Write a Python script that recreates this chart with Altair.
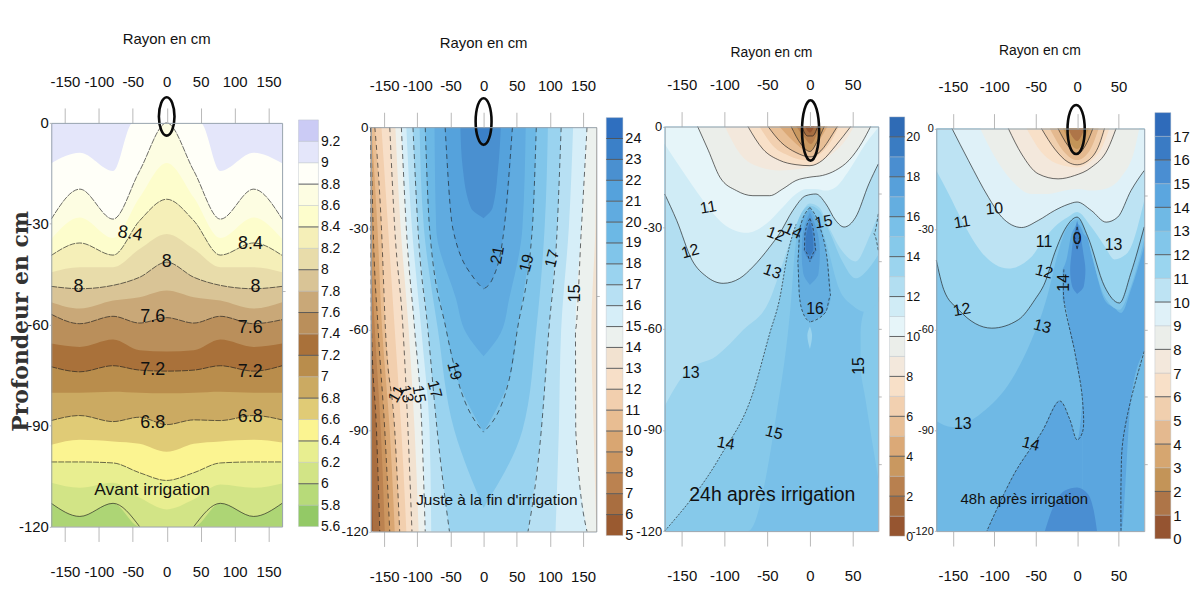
import altair as alt
import pandas as pd

NARROW = "Liberation Sans"
SANS = "Liberation Sans"
H = 575

# ---------- panel 1 : curves (depth in cm at radius nodes) ----------
P1_X = [-170, -128, -79, -40, 0, 40, 79, 128, 170]
P1_X90 = [-170, -128, -79, -50, 0, 50, 79, 128, 170]
P1_L90 = [12, 8.9, 14.3, 0, 0, 0, 14.3, 8.9, 12]
P1_L88 = [28.6, 19.7, 28.6, 14.3, 0, 14.3, 28.6, 19.7, 28.6]
P1_L86 = [34.5, 28.1, 34.2, 22.2, 11.9, 22.2, 34.2, 28.1, 34.5]
P1_L84 = [39.4, 35.7, 39.3, 29.1, 22.7, 29.1, 39.3, 35.7, 39.4]
P1_L82 = [44.4, 42.9, 42.9, 37.5, 33, 37.5, 42.9, 42.9, 44.4]
P1_L80 = [48.6, 49.3, 48.3, 45.9, 41.4, 45.9, 48.3, 49.3, 48.6]
P1_L78 = [53.3, 55.2, 52.8, 51.8, 49.8, 51.8, 52.8, 55.2, 53.3]
P1_L76 = [56.9, 59.7, 57.5, 59.5, 57.9, 59.5, 57.5, 59.7, 58.5]
P1_L74 = [65.6, 66.6, 64.4, 67.6, 68, 67.6, 64.4, 66.6, 65.6]
P1_L72 = [72.5, 74, 72.2, 73.5, 73.8, 73.5, 72.2, 73.8, 72.2]
P1_L70 = [80.2, 80.2, 79.9, 80.2, 80.4, 80.2, 79.9, 80.2, 80.2]
P1_L68 = [88.5, 87, 88.8, 87.5, 89.7, 88.3, 88.5, 87, 88.3]
P1_L66 = [95.7, 94.2, 94.7, 95.4, 97.8, 95.4, 94.7, 94.2, 95]
P1_L64 = [100.8, 100.8, 101.1, 104, 106.3, 104, 101.1, 100.8, 100.8]
P1_L62 = [107, 108.5, 107, 111.4, 114.9, 111.9, 107.5, 108.5, 107.2]
P1_L60 = [113.1, 117, 113.1, 120, 120, 120, 113.1, 117, 113.1]
P1_CELLS = ['#93c966', '#b7da79', '#d2e486', '#e8ee90', '#fbf491', '#e0cb76', '#cbaa62', '#b98d4c', '#a9713a',
            '#ba8f5b', '#c9a878', '#d9c496', '#e8dcaa', '#f5efb8', '#fdfdcc', '#fdfde2', '#fffff8', '#e4e6fa', '#cbcbf5']
P1_LEVELS = [5.6, 5.8, 6, 6.2, 6.4, 6.6, 6.8, 7, 7.2, 7.4, 7.6, 7.8, 8, 8.2, 8.4, 8.6, 8.8, 9, 9.2, 9.4]
P1_LABELS = ['8.4', '8', '8.4', '8', '8', '7.6', '7.6', '7.2', '7.2', '6.8', '6.8']
P1_LABEL_X = [-53.7, 0, 123.4, -130, 130.7, -20.5, 123, -20.5, 123, -20.5, 123]
P1_LABEL_D = [33, 41.4, 36, 48.8, 48.8, 57.7, 61, 73.5, 74, 89.2, 87.3]
P1_LABEL_A = [10, 0, 0, 0, 0, 0, 0, 0, 0, 0, 0]

# ---------- panel 2 : left / right boundaries at depth nodes ----------
P2_D = [0, 30, 60, 90, 120]
P2_L6 = [-170, -170, -170, -170, -166.5]
P2_L7 = [-170, -170, -169, -161.5, -156.5]
P2_L8 = [-170, -170, -164, -155, -149]
P2_L9 = [-170, -166.5, -159, -149, -141.5]
P2_L10 = [-169, -160, -153, -141.5, -134]
P2_L11 = [-164, -154, -148, -134, -126.5]
P2_L12 = [-154, -144, -134, -124, -116.5]
P2_L13 = [-141.5, -134, -121.5, -114, -108]
P2_L14 = [-133, -125, -113, -104, -98]
P2_R14 = [170, 168.5, 162.5, 166, 170]
P2_L15 = [-124, -116.5, -104, -93, -88]
P2_R15 = [156, 147.5, 138.5, 139, 156]
P2_L16 = [-116.5, -108, -94, -81.5, -79]
P2_R16 = [135, 128.5, 117, 113.5, 108.5]
P2_L17 = [-106.5, -99, -84, -70, -51.5]
P2_R17 = [117, 111, 98.5, 87, 67]
P2_D18 = [0, 30, 60, 90, 113]
P2_L18 = [-96.5, -90, -69, -44, 0]
P2_R18 = [97, 92, 79.5, 58.5, 0]
P2_D19 = [0, 30, 60, 75, 90.5]
P2_L19 = [-88, -81.5, -56.5, -39, 0]
P2_R19 = [79.5, 73.5, 51, 38.5, 0]
P2_D20 = [0, 30, 51, 61, 68]
P2_L20 = [-74, -71.5, -41.5, -26.5, 0]
P2_R20 = [63.5, 58.5, 38.5, 26, 0]
P2_D21 = [0, 30, 45, 48]
P2_L21 = [-58, -46.5, -14, 0]
P2_R21 = [43.5, 31, 13.5, 0]
P2_D22 = [0, 12, 24, 27]
P2_L22 = [-35, -31.5, -19, 0]
P2_R22 = [26, 22, 13.5, 0]
P2_D23 = [0, 6]
P2_L23 = [-13, 0]
P2_R23 = [12, 0]
P2_CELLS = ['#9a5a30', '#a96e40', '#bb8250', '#cc9660', '#d9a672', '#e8bd92', '#f2cfae', '#f7dfc8', '#f2e2d0', '#ecf1ee',
            '#d6eef8', '#b7e0f3', '#9ad3ef', '#80c5ea', '#6cb8e5', '#60abe0', '#55a2dc', '#4a90d0', '#3b80c8', '#2f6fbf']
P2_LEVELS = list(range(5, 26))
P2_LABELS = ['21', '19', '17', '15', '19', '11', '13', '15', '17']
P2_LABEL_X = [21, 65, 103.5, 138.5, -44, -131.5, -116.5, -97.5, -74]
P2_LABEL_D = [38, 40.4, 39, 49.3, 72.4, 79.2, 79.2, 79.2, 77.8]
P2_LABEL_A = [280, 285, 285, 270, 75, 300, 75, 80, 75]

# ---------- panel 3 ----------
P3_X12 = [-170, -156, -138, -121, -101.5, -82, -66.7, -47, -35.7, -20, -4.7, 7, 18.6, 30, 40, 53.5, 69, 80]
P3_D12 = [20, 27.8, 39.6, 44.5, 46.5, 45, 41.6, 35.7, 31.8, 24.9, 20.5, 20, 22.9, 27.8, 29.8, 26.9, 17, 11.1]
P3_X13 = [-170, -144, -109, -78, -47, -32, -20, -8.5, 0, 11, 22.5, 38, 53.5, 69, 80]
P3_D13 = [82.9, 72.6, 68, 60.3, 51.4, 40.6, 31.8, 25, 22.8, 24, 30, 37, 40, 33, 26]
P3_X14 = [-170, -105.4, -66.7, -47, -35.7, -26, -16.3, -8.5, 0, 11, 22.5, 38, 53.5, 69, 80]
P3_D14 = [120, 98, 79, 61.3, 51.4, 37.7, 29, 25, 23.5, 25, 31, 40, 45, 42, 38]
P3_X15 = [-170, -72.5, -39.5, -22, -17, -6.6, 0, 9, 18.6, 34, 49.6, 65, 80]
P3_D15 = [120, 120, 85.8, 51.4, 35.5, 26, 25, 27, 34, 48, 53, 55, 52]
P3_X11 = [-170, -152, -125, -101.5, -74.4, -51, -31.8, -16.3, -4.7, 7, 18.6, 30, 45.7, 65, 80]
P3_D11 = [5.2, 12.1, 21.9, 28.8, 31.5, 28.8, 23.9, 20, 18.5, 18.5, 19, 18, 13, 5.2, 0.3]
P3_X10 = [-131.4, -119, -105.4, -86, -66.7, -47, -31.8, -16.3, 0, 14.7, 30, 45.7, 61, 71]
P3_D10 = [0, 7, 15, 19, 20.5, 20.5, 18.5, 16, 15, 14.5, 13, 10, 4.7, 0]
P3_X9 = [-99.6, -82, -59, -35.7, -12.4, 7, 26.4, 41.9, 51.6]
P3_D9 = [0, 8, 12, 13, 12.6, 11, 8, 4, 0]
P3_X8 = [-72.5, -55, -35.7, -16.3, 0, 14.7, 30, 47.7]
P3_D8 = [0, 6.7, 10, 11.3, 11.6, 10, 5.7, 0]
P3_X7 = [-59, -43.4, -24, -4.7, 7, 22.5, 34]
P3_D7 = [0, 5.7, 8.7, 10, 9, 5.2, 0]
P3_X6 = [-49, -33.7, -16.3, 0, 12.8, 26.4, 32]
P3_D6 = [0, 4.7, 7.7, 9, 7.2, 2.3, 0]
P3_X5 = [-35.7, -20, -2.7, 9, 20.5]
P3_D5 = [0, 4.2, 7.2, 4.7, 0]
P3_X4 = [-22, -10.5, 0, 9, 16.7]
P3_D4 = [0, 5.2, 7.4, 4.2, 0]
P3_X3 = [-16, -6.6, 1, 10.9]
P3_D3 = [0, 3.2, 5.2, 0]
P3_X2 = [-9.7, -2.7, 3, 9]
P3_D2 = [0, 2.8, 2.8, 0]
P3_X1 = [-5.8, 0, 5]
P3_D1 = [0, 1.8, 0]
P3_B16_D = [24, 30, 40, 50, 55, 58]
P3_B16_L = [0, -11.6, -14.3, -12.4, -8.5, 0]
P3_B16_R = [0, 12, 20.5, 24.4, 18.6, 0]
P3_B17_D = [25.4, 31.8, 37.7, 43.6, 47]
P3_B17_L = [0, -8.5, -9.7, -7.8, 0]
P3_B17_R = [0, 9.3, 11.6, 10, 0]
P3_B18_D = [27.3, 31.8, 36.7, 40]
P3_B18_L = [0, -5.8, -6.6, 0]
P3_B18_R = [0, 4.7, 7, 0]
P3_B19_D = [28.3, 32.7, 36.2, 38.4]
P3_B19_L = [0, -4.5, -5, 0]
P3_B19_R = [0, 3.5, 4, 0]
P3_SPOT_D = [59.3, 62, 66]
P3_SPOT_L = [0, -3, 0]
P3_SPOT_R = [0, 2.5, 0]
P3_EDGE_D = [47.5, 53.4, 61.3, 71, 80.9, 104.5]
P3_EDGE_L = [80, 65, 59.3, 59.3, 65, 80]
P3_EDGE_R = [80, 80, 80, 80, 80, 80]
P3_POCKET_D = [25.9, 31.8, 36.7]
P3_POCKET_L = [80, 74.8, 80]
P3_CELLS = ['#965530', '#a76d40', '#b8804f', '#c99860', '#dba977', '#e8bf96', '#f2d0b0', '#f8e0c8', '#f3e8dc', '#ebeeea',
            '#e6f5f9', '#d0ecf6', '#b2def1', '#9bd4ee', '#86c9ea', '#79c0e8', '#64aee0', '#57a0da', '#4a8ed0', '#3a7cc2', '#2f6bb5']
P3_LEVELS = list(range(0, 22))
P3_LABELS = ['11', '12', '12', '14', '13', '15', '16', '13', '14', '15', '15']
P3_LABEL_X = [-119, -140, -40, -20, -44, 16, 6, -139.5, -98.5, -42, 58]
P3_LABEL_D = [24, 37, 32, 31, 43, 28.3, 54, 73, 94, 90.8, 71]
P3_LABEL_A = [350, 345, 20, 25, 20, 350, 0, 0, 10, 15, 270]

# ---------- panel 4 ----------
P4_X13 = [-170, -151, -115, -79, -55, -41, -35, -23, -11, 0, 11, 17, 33, 51, 65, 81]
P4_D13 = [87.2, 89, 84.7, 74.8, 63, 54, 49, 37, 29, 27, 31, 37, 50, 54, 47, 33]
P4_X12 = [-170, -161, -143, -103, -71, -51, -39, -27, -13, 0, 13, 33, 51, 65, 81]
P4_D12 = [39.2, 48, 54, 59.5, 57, 51, 46, 37, 29.3, 26.4, 32.3, 47, 52, 43, 29.3]
P4_X11 = [-170, -155, -139, -115, -83, -55, -41, -27, -11, 0, 17, 33, 45, 61, 81]
P4_D11 = [12.5, 19.5, 27.4, 37, 41.7, 38.2, 33.3, 29.3, 26.4, 24.9, 29.3, 35, 39, 37, 21.4]
P4_X10 = [-151, -131, -107, -91, -67, -47, -27, -11, 0, 17, 35, 49, 65, 81]
P4_D10 = [0, 9.6, 20.5, 26.4, 29.5, 27.4, 24.4, 22.6, 21.9, 24.4, 27.9, 26.4, 18.5, 12.5]
P4_X9 = [-117, -99, -79, -55, -35, -15, 1, 17, 33, 53, 69, 75]
P4_D9 = [0, 8.6, 15.5, 19.5, 19.5, 18.5, 18, 18.5, 18, 14.5, 6.6, 0]
P4_X8 = [-83, -67, -47, -23, -3, 17, 37, 47]
P4_D8 = [0, 7.6, 13.5, 15, 14, 11.6, 6.1, 0]
P4_X7 = [-61, -43, -23, 0, 17, 31, 39]
P4_D7 = [0, 7.1, 10.6, 11.6, 9.6, 5.1, 0]
P4_X6 = [-43, -27, -11, 0, 13, 27, 33]
P4_D6 = [0, 6.1, 10, 10.8, 9.6, 4.6, 0]
P4_X5 = [-33, -17, 0, 15, 26]
P4_D5 = [0, 6.6, 9.4, 6.6, 0]
P4_X4 = [-23, -11, 0, 11, 19]
P4_D4 = [0, 5.1, 7.6, 4.6, 0]
P4_X3 = [-17, 0, 14]
P4_D3 = [0, 6.1, 0]
P4_X2 = [-11, 0, 9]
P4_D2 = [0, 3.7, 0]
P4_A_X = [-17.6, -12.8, -6.8, -2.8, 0, 6.4, 6.5, 13, 21, 33, 45, 53, 65, 81]
P4_A_TOP = [42, 39, 31.4, 29.5, 28.4, 30.5, 30.6, 33, 41, 51, 53.5, 55, 48, 35]
P4_A_BOT = [51, 54, 63, 66.4, 71, 80.7, 120, 120, 120, 120, 120, 120, 80.7, 66.4]
P4_B_X = [-109, -75, -43, -21, -9, 0, 6.6]
P4_B_TOP = [120, 102.5, 90.6, 81.2, 86.6, 92.8, 81]
P4_LINE14_X = [-16, -16, -3, 6.4, 6.4, 0, -9, -21, -43, -75, -109]
P4_LINE14_D = [42, 51, 66.4, 80.7, 90.6, 92.8, 86.6, 81.2, 90.6, 102.5, 120]
P4_LINE14R_X = [81, 65, 55, 53, 53]
P4_LINE14R_D = [66.4, 80.7, 93.6, 105, 120]
P4_BOT_X = [-38.9, -30.9, -14.8, 0, 13.2, 21.2, 24]
P4_BOT_D = [120, 114, 107.9, 107, 109, 115.4, 120]
P4_B15_D = [27.4, 32.3, 37.3, 42.2, 47.1, 49.3]
P4_B15_L = [0, -4.4, -6.8, -8.4, -6, 0]
P4_B15_R = [0, 4.4, 7.6, 10, 8, 0]
P4_B16_D = [29.3, 32.3, 36.3]
P4_B16_L = [0, -3.6, 0]
P4_B16_R = [0, 3.6, 0]
P4_CELLS = ['#955431', '#ae7548', '#c39458', '#d6a670', '#e4b98f', '#f0cfae', '#f8e0c8', '#f3e8dc', '#ebeeea', '#dff1f8',
            '#bde3f3', '#9ad5ef', '#82c6ea', '#6fb9e5', '#5ba6df', '#4a8ed2', '#3a7bc4', '#2f6bba']
P4_LEVELS = list(range(0, 19))
P4_LABELS = ['11', '10', '11', '12', '14', '13', '0', '12', '13', '13', '14']
P4_LABEL_X = [-139, -100, -40, -40, -16, 44, 0, -139, -42, -138, -56]
P4_LABEL_D = [27.9, 23.9, 33.8, 42.7, 46, 34.8, 32.8, 54, 59, 88, 94]
P4_LABEL_A = [350, 355, 0, 15, 270, 0, 0, 350, 15, 0, 15]

# ---------- ellipses ----------
E1_X = [0, 8.1, 11.5, 8.1, 0, -8.1, -11.5, -8.1]
E1_D = [-7.6, -5.9, -1.9, 2.1, 3.8, 2.1, -1.9, -5.9]
E2_X = [0, 8.5, 12, 8.5, 0, -8.5, -12, -8.5]
E2_D = [-8.6, -6.6, -1.7, 3.2, 5.2, 3.2, -1.7, -6.6]
E3_X = [0.75, 7.8, 10.75, 7.8, 0.75, -6.3, -9.25, -6.3]
E3_D = [-7.8, -5.2, 1.15, 7.5, 10.1, 7.5, 1.15, -5.2]
E4_X = [-1.2, 6.2, 9.2, 6.2, -1.2, -8.6, -11.6, -8.6]
E4_D = [-7, -4.9, 0.3, 5.5, 7.6, 5.5, 0.3, -4.9]

TICKS_WIDE = [-150, -100, -50, 0, 50, 100, 150]
TICKS_SHORT = [-150, -100, -50, 0, 50]
DEPTHS = [0, 30, 60, 90, 120]
LINE = '#1c1c1c'
TICK_FONT = 15


class Panel:
    def __init__(self, dom, xr, yr, w):
        self.sx = alt.Scale(domain=dom, range=xr, nice=False, zero=False)
        self.sy = alt.Scale(domain=[0, 120], range=yr, nice=False, zero=False)
        self.w, self.xr, self.yr = w, xr, yr
        self.layers = []

    def X(self, axis=None):
        return alt.X('x:Q', scale=self.sx, axis=axis, title=None)

    def Y(self, axis=None):
        return alt.Y('d:Q', scale=self.sy, axis=axis, title=None)

    def rect(self, dom, color):
        d = pd.DataFrame({'x': [dom[0], dom[1]], 'd': [0, 0], 'e': [120, 120]})
        self.layers.append(alt.Chart(d).mark_area(color=color, orient='vertical').encode(
            x=self.X(), y=self.Y(), y2='e:Q'))

    def span(self, xs, top, bot, color):
        d = pd.DataFrame({'x': xs, 'd': top, 'e': bot})
        self.layers.append(alt.Chart(d).mark_area(color=color, orient='vertical', interpolate='monotone').encode(
            x=self.X(), y=self.Y(), y2='e:Q'))

    def below(self, xs, ds, color):
        self.span(xs, ds, [120] * len(xs), color)

    def above(self, xs, ds, color):
        self.span(xs, [0] * len(xs), ds, color)

    def side(self, ds, ls, rs, color):
        d = pd.DataFrame({'d': ds, 'x': ls, 'r': rs})
        self.layers.append(alt.Chart(d).mark_area(color=color, orient='horizontal', interpolate='monotone').encode(
            y=self.Y(), x=self.X(), x2='r:Q'))

    def line(self, xs, ds, dash=None, interp='monotone', width=0.65, orient='vertical'):
        d = pd.DataFrame({'x': xs, 'd': ds, 'i': range(len(xs))})
        kw = {'strokeDash': dash} if dash else {}
        self.layers.append(alt.Chart(d).mark_line(color=LINE, strokeWidth=width, interpolate=interp,
                                                  orient=orient, **kw).encode(
            x=self.X(), y=self.Y(), order=alt.Order('i:Q')))

    def vline(self, ds, xs, dash=None):
        self.line(xs, ds, dash=dash, orient='horizontal')

    def ellipse(self, xs, ds, width=2.6):
        d = pd.DataFrame({'x': xs, 'd': ds, 'i': range(len(xs))})
        self.layers.append(alt.Chart(d).mark_line(color='#0a0a0a', strokeWidth=width,
                                                  interpolate='cardinal-closed').encode(
            x=self.X(), y=self.Y(), order=alt.Order('i:Q')))

    def text(self, labels, xs, ds, angles=None, size=17, font=NARROW, weight='normal', color='#111'):
        angles = angles if angles is not None else [0] * len(labels)
        d = pd.DataFrame({'t': labels, 'x': xs, 'd': ds, 'a': angles})
        self.layers.append(alt.Chart(d).mark_text(font=font, fontSize=size, color=color, fontWeight=weight,
                                                  align='center', baseline='middle').encode(
            x=self.X(), y=self.Y(), text='t:N', angle=alt.Angle('a:Q', scale=None)))

    def axes(self, ticks, right_ticks, right_size, ysize=TICK_FONT):
        common = dict(title=None, grid=False, zindex=1, labelFont=NARROW, labelColor='#111', labelOverlap=False,
                      domainColor='#97a3ad', tickColor='#b8b8b8', labelExpr="''+datum.value", labelFlush=False)
        top = alt.Axis(orient='top', values=ticks, offset=-self.yr[0], tickSize=15, labelPadding=19,
                       labelFontSize=TICK_FONT, **common)
        bot = alt.Axis(orient='bottom', values=ticks, offset=-(H - self.yr[1]), tickSize=15, labelPadding=23,
                       labelFontSize=TICK_FONT, **common)
        c2 = dict(common)
        c2['labelExpr'] = "datum.value == 0 ? '0' : '-' + datum.value"
        left = alt.Axis(orient='left', values=DEPTHS, offset=-self.xr[0], tickSize=2, labelPadding=1,
                        labelFontSize=ysize, **c2)
        right = alt.Axis(orient='right', values=right_ticks, offset=-(self.w - self.xr[1]), tickSize=right_size,
                         labels=False, title=None, grid=False, zindex=1, domainColor='#97a3ad', tickColor='#b8b8b8')
        d = pd.DataFrame({'x': [0], 'd': [0]})
        self.layers.append(alt.Chart(d).mark_point(opacity=0).encode(x=self.X(top), y=self.Y(left)))
        self.layers.append(alt.Chart(d).mark_point(opacity=0).encode(x=self.X(bot), y=self.Y(right)))

    def chart(self):
        return alt.layer(*self.layers).properties(width=self.w, height=H).resolve_axis(x='independent', y='independent')


def colorbar(levels, cells, xr, yr, w, dark, labels, font, size, pad=2):
    sx = alt.Scale(domain=[0, 1], range=xr, nice=False, zero=False)
    sy = alt.Scale(domain=[levels[0], levels[-1]], range=yr, nice=False, zero=False)
    d = pd.DataFrame({'lo': levels[:-1], 'hi': levels[1:], 'c': cells, 'a': 0, 'b': 1})
    ax = alt.Axis(orient='right', values=labels, offset=-(w - xr[1]), domain=False, ticks=False, title=None, grid=False,
                  labelFont=font, labelFontSize=size, labelPadding=pad, labelColor='#111', labelOverlap=False,
                  labelExpr="''+datum.value", labelFlush=False)
    rects = alt.Chart(d).mark_rect(stroke='#b4bcc4', strokeWidth=0.4).encode(
        x=alt.X('a:Q', scale=sx, axis=None, title=None), x2='b:Q',
        y=alt.Y('lo:Q', scale=sy, axis=ax, title=None), y2='hi:Q',
        color=alt.Color('c:N', scale=None))
    rd = pd.DataFrame({'v': dark, 'a': 0, 'b': 1})
    rules = alt.Chart(rd).mark_rule(color='#333', strokeWidth=0.7).encode(
        x=alt.X('a:Q', scale=sx, axis=None, title=None), x2='b:Q',
        y=alt.Y('v:Q', scale=sy, axis=None, title=None))
    return alt.layer(rects, rules).properties(width=w, height=H).resolve_axis(y='independent')


# ---- Panel 1 ----
p1 = Panel([-170, 170], [43.5, 275.5], [114, 519.7], 285)
p1.rect([-170, 170], P1_CELLS[17])
p1.below(P1_X90, P1_L90, P1_CELLS[16])
for curve, idx in [(P1_L88, 15), (P1_L86, 14), (P1_L84, 13), (P1_L82, 12), (P1_L80, 11), (P1_L78, 10), (P1_L76, 9),
                   (P1_L74, 8), (P1_L72, 7), (P1_L70, 6), (P1_L68, 5), (P1_L66, 4), (P1_L64, 3), (P1_L62, 2)]:
    p1.below(P1_X, curve, P1_CELLS[idx])
p1.below(P1_X, P1_L60, '#add575')
for curve in [P1_L88, P1_L84, P1_L80, P1_L76, P1_L72, P1_L68, P1_L64]:
    p1.line(P1_X, curve, dash=[6, 1])
p1.line(P1_X[:4], P1_L60[:4])
p1.line(P1_X[5:], P1_L60[5:])
p1.text(P1_LABELS, P1_LABEL_X, P1_LABEL_D, P1_LABEL_A, size=18)
p1.text(['Avant irrigation'], [-21.5], [109], size=17.5)
p1.text(['Rayon en cm'], [0], [-25], size=15)
p1.text(['Profondeur en cm'], [-214], [59], [270], size=22, font='DejaVu Serif', weight='bold', color='#333')
p1.axes(TICKS_WIDE, [50], 3)
p1.ellipse(E1_X, E1_D)

# ---- Panel 2 ----
p2 = Panel([-170, 170], [27.7, 254.3], [118.3, 524.7], 260)
p2.rect([-170, 170], P2_CELLS[0])
FULL = [170] * 5
for ls, rs, idx in [(P2_L6, FULL, 1), (P2_L7, FULL, 2), (P2_L8, FULL, 3), (P2_L9, FULL, 4), (P2_L10, FULL, 5),
                    (P2_L11, FULL, 6), (P2_L12, FULL, 7), (P2_L13, FULL, 8), (P2_L14, P2_R14, 9), (P2_L15, P2_R15, 10),
                    (P2_L16, P2_R16, 11), (P2_L17, P2_R17, 12)]:
    p2.side(P2_D, ls, rs, P2_CELLS[idx])
p2.side(P2_D18, P2_L18, P2_R18, P2_CELLS[13])
p2.side(P2_D19, P2_L19, P2_R19, P2_CELLS[14])
p2.side(P2_D20, P2_L20, P2_R20, P2_CELLS[15])
p2.side(P2_D21, P2_L21, P2_R21, P2_CELLS[16])
p2.side(P2_D22, P2_L22, P2_R22, P2_CELLS[17])
p2.side(P2_D23, P2_L23, P2_R23, P2_CELLS[18])
for ds, xs in [(P2_D, P2_L7), (P2_D, P2_L9), (P2_D, P2_L11), (P2_D, P2_L13), (P2_D, P2_L15), (P2_D, P2_R15),
               (P2_D, P2_L17), (P2_D, P2_R17), (P2_D19, P2_L19), (P2_D19, P2_R19), (P2_D21, P2_L21), (P2_D21, P2_R21)]:
    p2.vline(ds, xs, dash=[5, 4])
p2.text(P2_LABELS, P2_LABEL_X, P2_LABEL_D, P2_LABEL_A, size=16)
p2.text(["Juste à la fin d'irrigation"], [20], [110.7], size=15.5)
p2.text(['Rayon en cm'], [0], [-24.9], size=15)
p2.axes(TICKS_WIDE, [50], 3, ysize=13.5)
p2.ellipse(E2_X, E2_D)

# ---- Panel 3 ----
p3 = Panel([-170, 80], [23, 237.7], [117.7, 524.3], 243)
p3.rect([-170, 80], P3_CELLS[15])
p3.side(P3_EDGE_D, P3_EDGE_L, P3_EDGE_R, P3_CELLS[14])
for xs, ds, idx in [(P3_X15, P3_D15, 14), (P3_X14, P3_D14, 13), (P3_X13, P3_D13, 12), (P3_X12, P3_D12, 11),
                    (P3_X11, P3_D11, 10), (P3_X10, P3_D10, 9), (P3_X9, P3_D9, 8), (P3_X8, P3_D8, 7), (P3_X7, P3_D7, 6),
                    (P3_X6, P3_D6, 5), (P3_X5, P3_D5, 4), (P3_X4, P3_D4, 3), (P3_X3, P3_D3, 2), (P3_X2, P3_D2, 1),
                    (P3_X1, P3_D1, 0)]:
    p3.above(xs, ds, P3_CELLS[idx])
p3.side(P3_SPOT_D, P3_SPOT_L, P3_SPOT_R, P3_CELLS[13])
p3.side(P3_B16_D, P3_B16_L, P3_B16_R, P3_CELLS[16])
p3.side(P3_B17_D, P3_B17_L, P3_B17_R, P3_CELLS[17])
p3.side(P3_B18_D, P3_B18_L, P3_B18_R, P3_CELLS[18])
p3.side(P3_B19_D, P3_B19_L, P3_B19_R, P3_CELLS[19])
for xs, ds in [(P3_X12, P3_D12), (P3_X10, P3_D10), (P3_X8, P3_D8), (P3_X6, P3_D6), (P3_X4, P3_D4), (P3_X2, P3_D2)]:
    p3.line(xs, ds)
p3.line(P3_X14[:7], P3_D14[:7], dash=[2, 1.5])
p3.vline(P3_B16_D, P3_B16_L, dash=[3, 2])
p3.vline(P3_B16_D, P3_B16_R, dash=[3, 2])
p3.vline(P3_B18_D, P3_B18_L, dash=[3, 2])
p3.vline(P3_B18_D, P3_B18_R, dash=[3, 2])
p3.vline(P3_POCKET_D, P3_POCKET_L, dash=[3, 2])
p3.text(P3_LABELS, P3_LABEL_X, P3_LABEL_D, P3_LABEL_A, size=16)
p3.text(['24h après irrigation'], [-44], [109.2], size=19.5, font=SANS)
p3.text(['Rayon en cm'], [-45], [-21.8], size=14)
p3.axes(TICKS_SHORT, [20, 40, 60, 80, 100], 3, ysize=13)
p3.ellipse(E3_X, E3_D)

# ---- Panel 4 ----
p4 = Panel([-170, 81], [11, 220], [119.7, 524.3], 225)
p4.rect([-170, 81], P4_CELLS[13])
p4.span(P4_A_X, P4_A_TOP, P4_A_BOT, P4_CELLS[14])
p4.below(P4_B_X, P4_B_TOP, P4_CELLS[14])
p4.below(P4_BOT_X, P4_BOT_D, P4_CELLS[15])
for xs, ds, idx in [(P4_X13, P4_D13, 12), (P4_X12, P4_D12, 11), (P4_X11, P4_D11, 10), (P4_X10, P4_D10, 9),
                    (P4_X9, P4_D9, 8), (P4_X8, P4_D8, 7), (P4_X7, P4_D7, 6), (P4_X6, P4_D6, 5), (P4_X5, P4_D5, 4),
                    (P4_X4, P4_D4, 3), (P4_X3, P4_D3, 2), (P4_X2, P4_D2, 1)]:
    p4.above(xs, ds, P4_CELLS[idx])
p4.side(P4_B15_D, P4_B15_L, P4_B15_R, P4_CELLS[15])
p4.side(P4_B16_D, P4_B16_L, P4_B16_R, P4_CELLS[16])
for xs, ds in [(P4_X12, P4_D12), (P4_X10, P4_D10), (P4_X8, P4_D8), (P4_X6, P4_D6), (P4_X4, P4_D4)]:
    p4.line(xs, ds)
p4.line(P4_LINE14_X, P4_LINE14_D, dash=[3, 1.5], interp='catmull-rom')
p4.line(P4_LINE14R_X, P4_LINE14R_D, dash=[3, 1.5], interp='catmull-rom')
p4.vline(P4_B16_D, P4_B16_L, dash=[3, 2])
p4.vline(P4_B16_D, P4_B16_R, dash=[3, 2])
p4.text(P4_LABELS, P4_LABEL_X, P4_LABEL_D, P4_LABEL_A, size=16)
p4.text(['48h après irrigation'], [-63.7], [110.4], size=15)
p4.text(['Rayon en cm'], [-45], [-23], size=14)
p4.axes(TICKS_SHORT, [20, 40, 60, 80, 100], 3, ysize=11)
p4.ellipse(E4_X, E4_D)

b1 = colorbar(P1_LEVELS, P1_CELLS, [7, 27], [519.7, 111], 52,
              [8.8, 8.4, 8, 7.6, 7.2, 6.8, 6.4, 6], P1_LEVELS[:-1], SANS, 14)
b2 = colorbar(P2_LEVELS, P2_CELLS, [4.3, 21], [528.7, 108.7], 40,
              P2_LEVELS[1:-1], P2_LEVELS[:-1], NARROW, 14.5)
b3 = colorbar(P3_LEVELS, P3_CELLS, [6, 21.3], [529.3, 108], 42,
              P3_LEVELS[2:-1:2], P3_LEVELS[0:-1:2], NARROW, 12.5, pad=1)
b4 = colorbar(P4_LEVELS, P4_CELLS, [5.7, 21.7], [532, 103.7], 35,
              P4_LEVELS[2:-1:2], P4_LEVELS[:-1], NARROW, 15)

chart = alt.hconcat(p1.chart(), b1, p2.chart(), b2, p3.chart(), b3, p4.chart(), b4, spacing=0, bounds='flush') \
    .properties(padding=0, background='white') \
    .configure_view(stroke=None)

chart.save("out.html", embed_options={"renderer": "svg", "actions": False})
